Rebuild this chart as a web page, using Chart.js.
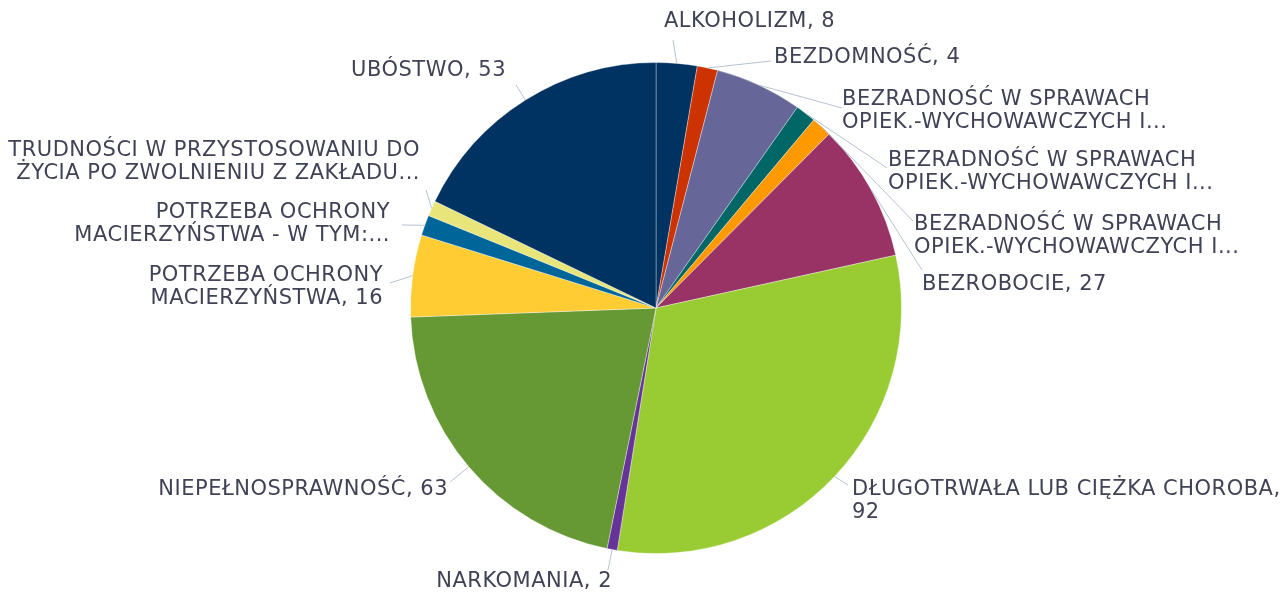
<!DOCTYPE html>
<html>
<head>
<meta charset="utf-8">
<script src="https://cdn.jsdelivr.net/npm/chart.js@4.4.1/dist/chart.umd.min.js"></script>
<style>
  html, body { margin: 0; padding: 0; background: #fff; }
  #wrap { width: 1280px; height: 593px; }
</style>
</head>
<body>
<div id="wrap"><canvas id="problemsChart"></canvas></div>
<script>
// categories (already as shown on the chart, wrapped into lines)
const categories = [
  ['ALKOHOLIZM'],
  ['BEZDOMNOŚĆ'],
  ['BEZRADNOŚĆ W SPRAWACH', 'OPIEK.-WYCHOWAWCZYCH I...'],
  ['BEZRADNOŚĆ W SPRAWACH', 'OPIEK.-WYCHOWAWCZYCH I...'],
  ['BEZRADNOŚĆ W SPRAWACH', 'OPIEK.-WYCHOWAWCZYCH I...'],
  ['BEZROBOCIE'],
  ['DŁUGOTRWAŁA LUB CIĘŻKA CHOROBA'],
  ['NARKOMANIA'],
  ['NIEPEŁNOSPRAWNOŚĆ'],
  ['POTRZEBA OCHRONY', 'MACIERZYŃSTWA'],
  ['POTRZEBA OCHRONY', 'MACIERZYŃSTWA - W TYM:...'],
  ['TRUDNOŚCI W PRZYSTOSOWANIU DO', 'ŻYCIA PO ZWOLNIENIU Z ZAKŁADU...'],
  ['UBÓSTWO']
];
const values = [8, 4, 17, 4, 4, 27, 92, 2, 63, 16, 4, 3, 53];
const colors = ['#003262', '#CC3300', '#666699', '#006666', '#FF9900', '#993366',
  '#99CC33', '#663399', '#669933', '#FFCC33', '#006699', '#E8E67A', '#003262'];

// label placement, relative to pie centre: text anchor (tx,ty), leader end (ex,ey)
const labelLayout = [
  { tx: 8, ty: -286, ex: 17, ey: -268, align: 'left' },
  { tx: 118, ty: -250, ex: 115, ey: -247, align: 'left' },
  { tx: 186, ty: -208, ex: 186, ey: -200, align: 'left' },
  { tx: 232, ty: -147, ex: 231, ey: -140, align: 'left' },
  { tx: 258, ty: -83, ex: 257, ey: -87, align: 'left' },
  { tx: 266, ty: -23, ex: 266, ey: -38, align: 'left' },
  { tx: 196, ty: 182, ex: 192, ey: 177, align: 'left', valueOwnLine: true },
  { tx: -44, ty: 274, ex: -48, ey: 262, align: 'right' },
  { tx: -208, ty: 182, ex: -206, ey: 174, align: 'right' },
  { tx: -273, ty: -32, ex: -266, ey: -25, align: 'right' },
  { tx: -266, ty: -95, ex: -254, ey: -83, align: 'right' },
  { tx: -236, ty: -157, ex: -230, ey: -118, align: 'right' },
  { tx: -150, ty: -237, ex: -140, ey: -223, align: 'right' }
];

function labelLines(i) {
  const lines = categories[i].slice();
  const last = lines[lines.length - 1];
  if (last.endsWith('...')) return lines;
  if (labelLayout[i].valueOwnLine) {
    lines[lines.length - 1] = last + ',';
    lines.push(String(values[i]));
  } else {
    lines[lines.length - 1] = last + ', ' + values[i];
  }
  return lines;
}

const outsideLabels = {
  id: 'outsideLabels',
  afterDatasetsDraw(chart) {
    const ctx = chart.ctx;
    const meta = chart.getDatasetMeta(0);
    ctx.save();
    ctx.font = '21px "DejaVu Sans"';
    ctx.letterSpacing = '0.5px';
    ctx.textBaseline = 'middle';
    meta.data.forEach((arc, i) => {
      const p = arc.getProps(['x', 'y', 'startAngle', 'endAngle', 'outerRadius'], true);
      const mid = (p.startAngle + p.endAngle) / 2;
      const sx = p.x + Math.cos(mid) * p.outerRadius;
      const sy = p.y + Math.sin(mid) * p.outerRadius;
      const lay = labelLayout[i];

      ctx.strokeStyle = '#B7C2D2';
      ctx.lineWidth = 1;
      ctx.beginPath();
      ctx.moveTo(sx, sy);
      ctx.lineTo(p.x + lay.ex, p.y + lay.ey);
      ctx.stroke();

      ctx.fillStyle = '#404256';
      ctx.textAlign = lay.align;
      labelLines(i).forEach((line, k) => {
        ctx.fillText(line, p.x + lay.tx, p.y + lay.ty + k * 22.5);
      });
    });
    ctx.restore();
  }
};

new Chart(document.getElementById('problemsChart').getContext('2d'), {
  type: 'pie',
  data: {
    labels: categories,
    datasets: [{
      data: values,
      backgroundColor: colors,
      borderColor: 'rgba(255,255,255,0.35)',
      borderWidth: 1
    }]
  },
  options: {
    responsive: true,
    maintainAspectRatio: false,
    animation: false,
    layout: { padding: { left: 410, right: 378, top: 62, bottom: 39 } },
    plugins: {
      legend: { display: false },
      tooltip: { enabled: false }
    }
  },
  plugins: [outsideLabels]
});
</script>
</body>
</html>
